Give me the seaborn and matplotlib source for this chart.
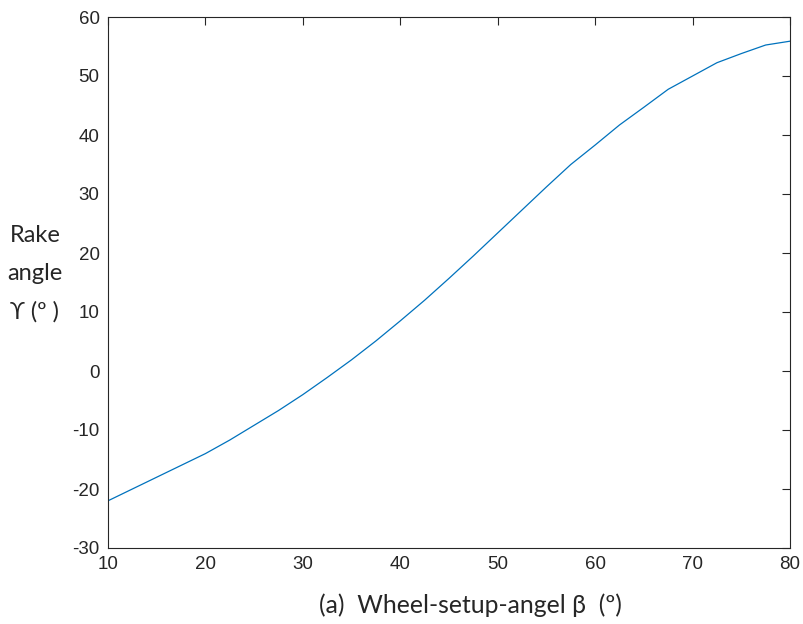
import matplotlib
matplotlib.use("Agg")
import matplotlib.pyplot as plt
import seaborn as sns
import pandas as pd

# Values
beta = [10, 12.5, 15, 17.5, 20, 22.5, 25, 27.5, 30, 32.5, 35, 37.5, 40, 42.5,
        45, 47.5, 50, 52.5, 55, 57.5, 60, 62.5, 65, 67.5, 70, 72.5, 75, 77.5, 80]
rake = [-22, -20, -18, -16, -14, -11.7, -9.2, -6.7, -4, -1.1, 1.9, 5.1, 8.5, 12,
        15.7, 19.5, 23.4, 27.3, 31.2, 35, 38.3, 41.7, 44.7, 47.75, 50, 52.25,
        53.8, 55.25, 55.9]
xticks = [10, 20, 30, 40, 50, 60, 70, 80]
yticks = [-30, -20, -10, 0, 10, 20, 30, 40, 50, 60]

sns.set_style("white")
plt.rcParams['font.family'] = ['Liberation Sans', 'DejaVu Sans']
plt.rcParams['axes.unicode_minus'] = False

df = pd.DataFrame({'beta': beta, 'rake': rake})

fig = plt.figure(figsize=(8.04, 6.24), dpi=100)
ax = fig.add_axes([108 / 804, 1 - 548 / 624, (790 - 108) / 804, (548 - 17) / 624])
sns.lineplot(data=df, x='beta', y='rake', ax=ax, color='#0072BD', linewidth=0.9)

ax.set_xlim(10, 80)
ax.set_ylim(-30, 60)
ax.set_xticks(xticks)
ax.set_yticks(yticks)
ax.set_xlabel('')
ax.set_ylabel('')
ax.tick_params(direction='in', length=6, width=0.8, top=True, right=True,
               labelsize=13.5, colors='#262626', pad=6)
for t in ax.get_xticklabels() + ax.get_yticklabels():
    t.set_fontfamily(['Liberation Sans', 'DejaVu Sans'])
for s in ax.spines.values():
    s.set_color('#262626')
    s.set_linewidth(0.8)

lbl_font = ['Lato', 'DejaVu Sans']
fig.text(470 / 804, 1 - 605 / 624, '(a)  Wheel-setup-angel β  (º)',
         ha='center', va='center', fontsize=17.8, family=lbl_font, color='#262626')
fig.text(35 / 804, 1 - 274 / 624, 'Rake\nangle\nϒ (º )', ha='center', va='center',
         fontsize=17, family=lbl_font, color='#262626', linespacing=2.0)

fig.savefig('out.png', dpi=100)
